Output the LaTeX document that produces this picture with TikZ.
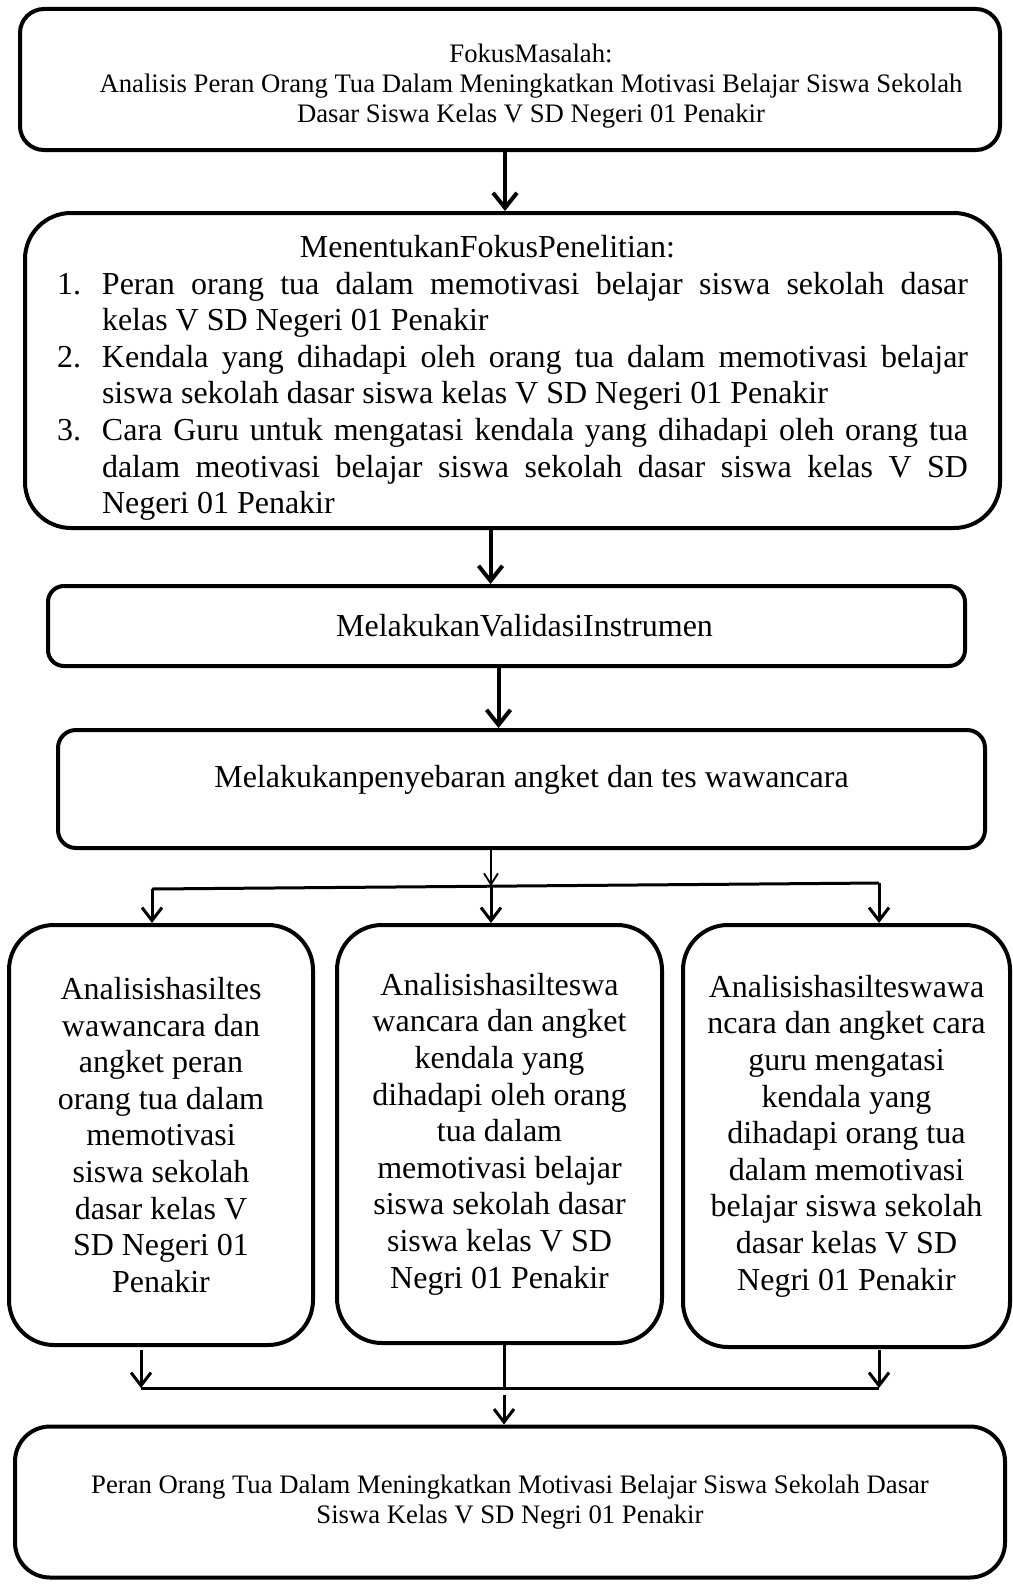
\documentclass[tikz,border=0pt]{standalone}
\usepackage{fontspec}
\setmainfont{Liberation Serif}
\usetikzlibrary{arrows.meta,calc}

\tikzset{
  kotak/.style={draw, line width=4pt, inner sep=0pt},
  teks/.style={font=\fontsize{32}{36.6}\selectfont},
  teks kecil/.style={font=\fontsize{26.7}{30}\selectfont},
  panah/.style={-{Straight Barb[length=15pt,width=24pt]}, line width=4pt},
  panah sedang/.style={-{Straight Barb[length=13pt,width=20pt]}, line width=3pt},
  panah tipis/.style={-{Straight Barb[length=11pt,width=14pt]}, line width=1.8pt},
  garis/.style={line width=3pt}
}

\begin{document}
\begin{tikzpicture}[x=1pt,y=-1pt]
  \useasboundingbox (0,0) rectangle (1012,1584);
  % fokus masalah
  \node[kotak, teks kecil, rounded corners=24pt, minimum width=980pt, minimum height=141pt, align=center]
    (fokus) at (510,79.5) {\hspace*{42pt}\rule{0pt}{32pt}FokusMasalah:\\ \hspace*{42pt}Analisis Peran Orang Tua Dalam Meningkatkan Motivasi Belajar Siswa Sekolah\\ \hspace*{42pt}Dasar Siswa Kelas V SD Negeri 01 Penakir};
  % fokus penelitian
  \node[kotak, teks, rounded corners=46pt, minimum width=975pt, minimum height=315pt, text width=911pt, align=justify]
    (fokuspen) at (512.5,370.5) {%
    \noindent\makebox[\linewidth]{\hspace*{-50pt}\rule{0pt}{37pt}MenentukanFokusPenelitian:}\par
    \hangindent=45pt\hangafter=1\noindent\makebox[45pt][l]{1.}Peran orang tua dalam memotivasi belajar siswa sekolah dasar\linebreak kelas V SD Negeri 01 Penakir\par
    \hangindent=45pt\hangafter=1\noindent\makebox[45pt][l]{2.}Kendala yang dihadapi oleh orang tua dalam memotivasi belajar\linebreak siswa sekolah dasar siswa kelas V SD Negeri 01 Penakir\par
    \hangindent=45pt\hangafter=1\noindent\makebox[45pt][l]{3.}Cara Guru untuk mengatasi kendala yang dihadapi oleh orang tua\linebreak dalam meotivasi belajar siswa sekolah dasar siswa kelas V SD\linebreak Negeri 01 Penakir\par};
  % validasi
  \node[kotak, teks, rounded corners=16pt, minimum width=917pt, minimum height=80pt]
    (validasi) at (506.5,626) {\hspace*{36pt}MelakukanValidasiInstrumen};
  % penyebaran angket
  \node[kotak, teks, rounded corners=18pt, minimum width=927pt, minimum height=118pt]
    (sebar) at (521.5,789) {\hspace*{20pt}Melakukanpenyebaran angket dan tes wawancara\rule[-25pt]{0pt}{25pt}};
  % tiga analisis
  \node[kotak, teks, rounded corners=45pt, minimum width=304pt, minimum height=420pt, align=center]
    (hasil1) at (161,1135) {Analisishasiltes\\ wawancara dan\\ angket peran\\ orang tua dalam\\ memotivasi\\ siswa sekolah\\ dasar kelas V\\ SD Negeri 01\\ Penakir};
  \node[kotak, teks, rounded corners=45pt, minimum width=325pt, minimum height=418pt, align=center]
    (hasil2) at (499.5,1134) {Analisishasilteswa\\ wancara dan angket\\ kendala yang\\ dihadapi oleh orang\\ tua dalam\\ memotivasi belajar\\ siswa sekolah dasar\\ siswa kelas V SD\\ Negri 01 Penakir};
  \node[kotak, teks, rounded corners=45pt, minimum width=327pt, minimum height=422pt, align=center]
    (hasil3) at (846.5,1136) {Analisishasilteswawa\\ ncara dan angket cara\\ guru mengatasi\\ kendala yang\\ dihadapi orang tua\\ dalam memotivasi\\ belajar siswa sekolah\\ dasar kelas V SD\\ Negri 01 Penakir};
  % hasil akhir
  \node[kotak, teks kecil, rounded corners=35pt, minimum width=990pt, minimum height=151pt, align=center]
    (akhir) at (510,1502) {Peran Orang Tua Dalam Meningkatkan Motivasi Belajar Siswa Sekolah Dasar\\ Siswa Kelas V SD Negri 01 Penakir};

  % titik cabang
  \coordinate (pisah) at (491,886);
  \coordinate (ca) at (152,889);
  \coordinate (cb) at (491,887);
  \coordinate (cc) at (879,883);
  \coordinate (da) at (141,1350);
  \coordinate (da2) at (141,1388);
  \coordinate (db) at (879,1350);
  \coordinate (db2) at (879,1388);
  \coordinate (dm) at (504,1388);
  \coordinate (dm2) at (504,1395);

  % panah utama
  \draw[panah] ([xshift=-5pt]fokus.south) -- ([xshift=-5pt]fokus.south |- fokuspen.north);
  \draw[panah] ([xshift=-22pt]fokuspen.south) -- ([xshift=-22pt]fokuspen.south |- validasi.north);
  \draw[panah] ([xshift=-8pt]validasi.south) -- ([xshift=-8pt]validasi.south |- sebar.north);
  % cabang ke tiga kotak
  \draw[panah tipis] (sebar.south -| pisah) -- (pisah);
  \draw[garis] (ca) -- (cc);
  \draw[panah sedang] (ca) -- (ca |- hasil1.north);
  \draw[panah sedang] (cb) -- (cb |- hasil2.north);
  \draw[panah sedang] (cc) -- (cc |- hasil3.north);
  % gabung ke hasil akhir
  \draw[panah sedang] (da) -- (da2);
  \draw[panah sedang] (db) -- (db2);
  \draw[garis] (da2) -- (db2);
  \draw[garis] (hasil2.south -| dm) -- (dm);
  \draw[panah sedang] (dm2) -- (dm2 |- akhir.north);
\end{tikzpicture}
\end{document}
